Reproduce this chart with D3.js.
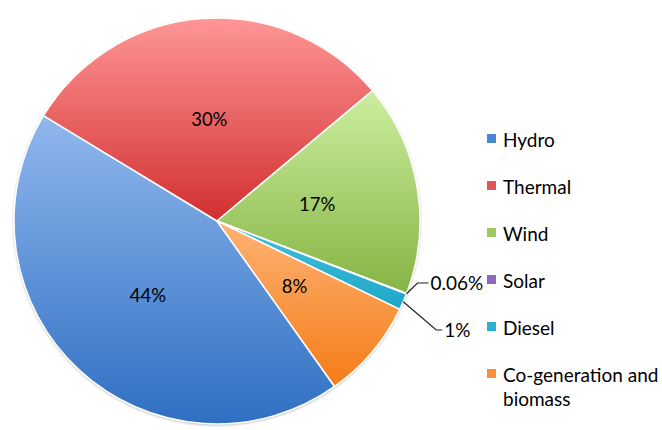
<!DOCTYPE html>
<html>
<head>
<meta charset="utf-8">
<script src="https://cdn.jsdelivr.net/npm/d3@7"></script>
<style>
  html, body { margin: 0; padding: 0; background: #ffffff; }
  svg { display: block; }
  text { font-family: Lato, "Open Sans", "DejaVu Sans", sans-serif; fill: #000; }
</style>
</head>
<body>
<svg id="chart" width="662" height="430"></svg>
<script>
// Electricity generation mix, share of total (%)
const categories = ["Hydro", "Thermal", "Wind", "Solar", "Diesel", "Co-generation and biomass"];
const shares = [43.5, 30.2, 16.9, 0.06, 1.3, 8.0];
// light (top) and dark (bottom) shade of each slice
const lightColors = ["#91b8ee", "#ff9696", "#cdee9f", "#b59ad6", "#45c2de", "#fdb374"];
const darkColors  = ["#2f6fc2", "#d22f2f", "#86b444", "#7a55aa", "#1ea6c8", "#f57c18"];
const legendColors = ["#4a86d4", "#e05555", "#9ccc60", "#8a6abb", "#2ab2d2", "#f8903a"];

const W = 662, H = 430;
const cx = 217, cy = 221, R = 203;
const startDeg = 144.6;

const svg = d3.select("#chart");
svg.append("rect").attr("width", W).attr("height", H).attr("fill", "#fff");

const total = d3.sum(shares);
const fmt = v => {
  const p = v / total * 100;
  return p >= 1 ? Math.round(p) + "%" : d3.format(".2f")(p) + "%";
};

const data = categories.map((c, i) => ({ name: c, value: shares[i], i }));

const pie = d3.pie().sort(null).value(d => d.value)
  .startAngle(startDeg * Math.PI / 180)
  .endAngle(startDeg * Math.PI / 180 + 2 * Math.PI);
const arcs = pie(data);

const arc = d3.arc().innerRadius(0).outerRadius(R);
const labelArc = d3.arc().innerRadius(0).outerRadius(R);

const defs = svg.append("defs");
data.forEach((d, i) => {
  const g = defs.append("linearGradient")
    .attr("id", "grad" + i)
    .attr("x1", 0).attr("y1", 0).attr("x2", 0).attr("y2", 1);
  g.append("stop").attr("offset", "0%").attr("stop-color", lightColors[i]);
  g.append("stop").attr("offset", "100%").attr("stop-color", darkColors[i]);
});
const shadow = defs.append("filter").attr("id", "soft")
  .attr("x", "-10%").attr("y", "-10%").attr("width", "120%").attr("height", "120%");
shadow.append("feGaussianBlur").attr("in", "SourceAlpha").attr("stdDeviation", 1.5);
shadow.append("feOffset").attr("dx", 0).attr("dy", 1).attr("result", "b");
shadow.append("feComponentTransfer").append("feFuncA").attr("type", "linear").attr("slope", 0.35);
const merge = shadow.append("feMerge");
merge.append("feMergeNode");
merge.append("feMergeNode").attr("in", "SourceGraphic");

const g = svg.append("g").attr("transform", `translate(${cx},${cy})`);

g.append("circle").attr("r", R).attr("fill", "#fff").attr("filter", "url(#soft)");

g.selectAll("path.slice")
  .data(arcs)
  .join("path")
  .attr("class", "slice")
  .attr("d", arc)
  .attr("fill", d => `url(#grad${d.data.i})`)
  .attr("stroke", "#fff")
  .attr("stroke-width", 1.5)
  .attr("stroke-linejoin", "round");

// labels inside the larger slices
const inside = arcs.filter(d => d.data.value / total >= 0.05);
g.selectAll("text.inlabel")
  .data(inside)
  .join("text")
  .attr("class", "inlabel")
  .attr("transform", d => `translate(${labelArc.centroid(d)})`)
  .attr("text-anchor", "middle")
  .attr("dy", "0.35em")
  .style("font-size", "18.5px")
  .text(d => fmt(d.data.value));

// leader-line labels for the thin slices
const outside = arcs.filter(d => d.data.value / total < 0.05);
const leaderSpec = {
  Solar:  { dx1: 11, y1: 62, dx2: 22 },
  Diesel: { dx1: 33, y1: 109, dx2: 39 }
};
outside.forEach(d => {
  const a = (d.startAngle + d.endAngle) / 2;
  const x0 = Math.sin(a) * R, y0 = -Math.cos(a) * R;
  const s = leaderSpec[d.data.name];
  const x1 = x0 + s.dx1, x2 = x0 + s.dx2;
  g.append("path")
    .attr("d", d3.line()([[x0, y0], [x1, s.y1], [x2, s.y1]]))
    .attr("fill", "none").attr("stroke", "#222").attr("stroke-width", 1.2);
  g.append("text")
    .attr("x", x2 + 2).attr("y", s.y1)
    .attr("dy", "0.35em")
    .style("font-size", "19px")
    .text(fmt(d.data.value));
});

// legend
const legend = svg.append("g").attr("transform", "translate(487,147)");
const rowH = 47;
const item = legend.selectAll("g.item")
  .data(data)
  .join("g")
  .attr("class", "item")
  .attr("transform", (d, i) => `translate(0,${i * rowH})`);
item.append("rect")
  .attr("x", 0).attr("y", -13).attr("width", 9).attr("height", 9)
  .attr("fill", d => legendColors[d.i]);
item.append("text")
  .attr("x", 16)
  .style("font-size", "19px")
  .each(function (d) {
    const t = d3.select(this);
    const parts = d.name === "Co-generation and biomass" ? ["Co-generation and", "biomass"] : [d.name];
    parts.forEach((p, k) => t.append("tspan").attr("x", 16).attr("y", k * 24).text(p));
  });
</script>
</body>
</html>
